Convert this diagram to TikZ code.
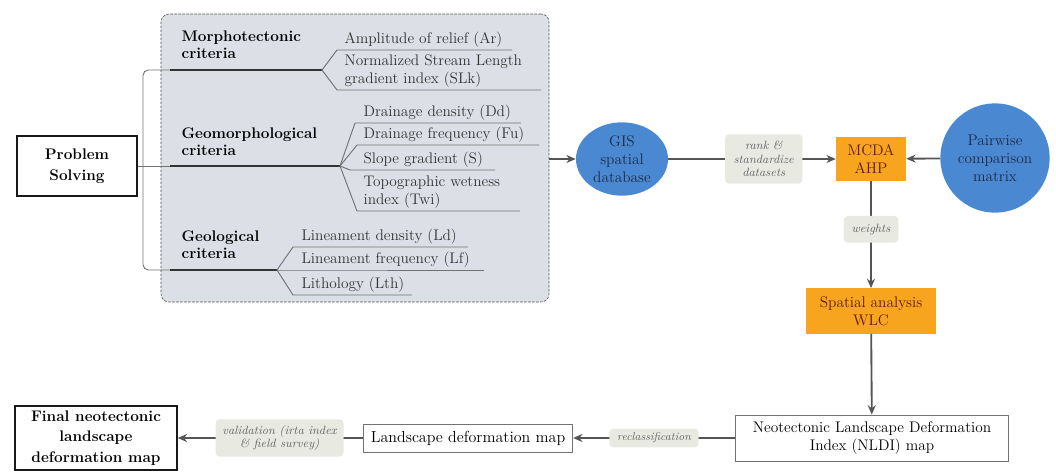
\documentclass[tikz,border=0pt]{standalone}
\usetikzlibrary{positioning,shapes.geometric,arrows.meta}

\definecolor{panelgray}{HTML}{DCDFE5}
\definecolor{gisblue}{HTML}{4A88D2}
\definecolor{ahporange}{HTML}{F7A41E}
\definecolor{tagfill}{HTML}{E8EAE2}
\definecolor{flowgray}{HTML}{555555}
\definecolor{ahptext}{HTML}{5E1B0C}
\definecolor{gistext}{HTML}{1C2B45}

\begin{document}
\begin{tikzpicture}[x=0.75pt,y=-0.75pt,
	every node/.style={font=\fontsize{11.5}{13.5}\selectfont},
	panel/.style={draw=black!70,dashed,dash pattern=on 2pt off 1pt,fill=panelgray,rounded corners=6pt,minimum width=291pt,minimum height=216pt},
	plain box/.style={draw=black!55,line width=0.7pt,fill=white,align=center,inner sep=2pt},
	bold box/.style={draw=black!90,line width=1.6pt,fill=white,align=center,inner sep=1pt,font=\fontsize{11.5}{15.5}\selectfont\bfseries},
	blue node/.style={fill=gisblue,text=gistext,align=center,inner sep=0pt},
	orange node/.style={fill=ahporange,text=ahptext,align=center,inner sep=1pt},
	tag/.style={fill=tagfill,rounded corners=3pt,text=black!60,align=center,inner sep=1pt,font=\fontsize{9}{10}\selectfont\itshape},
	crit title/.style={anchor=south west,align=left,inner sep=1pt,font=\fontsize{11.5}{12.8}\selectfont\bfseries},
	item/.style={anchor=south west,align=left,inner sep=1pt,text=black!80},
	stem/.style={draw=black!80,line width=1.8pt},
	twig/.style={draw=black!55,line width=0.7pt},
	brace/.style={draw=black!55,line width=0.7pt,rounded corners=4pt},
	flow/.style={draw=flowgray,line width=1.4pt,-{Stealth[length=7pt,width=6pt]}}]

\useasboundingbox (0,0) rectangle (1056,475);

% criteria panel
\node[panel] (crit) at (355,158) {};

\node[bold box,minimum width=90pt,minimum height=45pt] (ps) at (77,166) {Problem\\Solving};

% stems of the three groups
\coordinate (mtA) at (170,70);
\coordinate (mtB) at (322,70);
\coordinate (gmA) at (170,166);
\coordinate (gmB) at (340,166);
\coordinate (glA) at (170,270);
\coordinate (glB) at (277,270);

\node[crit title] (mt) at (180,60) {Morphotectonic\\criteria};
\node[crit title] (gm) at (180,157) {Geomorphological\\criteria};
\node[crit title] (gl) at (180,260) {Geological\\criteria};

\draw[stem] (mtA) -- (mtB);
\draw[stem] (gmA) -- (gmB);
\draw[stem] (glA) -- (glB);

\draw[brace] (mtA) -- (143,70) -- (143,270) -- (glA);
\draw[brace] (ps.east) -- (gmA);

% morphotectonic items
\node[item] (ar) at (343,49) {Amplitude of relief (Ar)};
\node[item] (slk) at (343,89) {Normalized Stream Length\\gradient index (SLk)};
\draw[twig] (mtB) -- (337,50) -- (512,50);
\draw[twig] (mtB) -- (337,90) -- (541,90);

% geomorphological items
\node[item] (dd) at (362,122) {Drainage density (Dd)};
\node[item] (fu) at (362,144) {Drainage frequency (Fu)};
\node[item] (sg) at (362,169) {Slope gradient (S)};
\node[item] (twi) at (362,210) {Topographic wetness\\index (Twi)};
\draw[twig] (gmB) -- (355,123) -- (521,123);
\draw[twig] (gmB) -- (357,145) -- (539,145);
\draw[twig] (gmB) -- (350,170) -- (495,170);
\draw[twig] (gmB) -- (357,211) -- (520,211);

% geological items
\node[item] (ld) at (300,246) {Lineament density (Ld)};
\node[item] (lf) at (300,269) {Lineament frequency (Lf)};
\node[item] (lth) at (300,294) {Lithology (Lth)};
\draw[twig] (glB) -- (293,247) -- (468,247);
\draw[twig] (glB) -- (293,270) -- (484,270);
\draw[twig] (glB) -- (293,295) -- (412,295);

% analysis
\node[blue node,ellipse,minimum width=69pt,minimum height=55pt] (gis) at (622,159) {GIS\\spatial\\database};
\node[orange node,minimum width=52.5pt,minimum height=33pt] (mcda) at (871,159) {MCDA\\AHP};
\node[blue node,circle,minimum size=82pt] (pair) at (995,158) {Pairwise\\comparison\\matrix};
\node[orange node,minimum width=97.5pt,minimum height=34pt] (wlc) at (871,311) {Spatial analysis\\WLC};

\draw[flow] (crit.east |- gis) -- (gis.west);
\draw[flow] (gis) -- node[tag,pos=0.57,minimum width=58pt,minimum height=37pt] (rank) {rank \&\\standardize\\datasets} (mcda);
\draw[flow] (pair) -- (mcda);
\draw[flow] (mcda) -- node[tag,pos=0.45,minimum width=41pt,minimum height=20pt] (wts) {weights} (wlc);

% maps
\node[plain box,minimum width=205pt,minimum height=34.5pt] (nldi) at (872,438) {Neotectonic Landscape Deformation\\Index (NLDI) map};
\node[plain box,minimum width=157pt,minimum height=21pt,font=\fontsize{12}{14}\selectfont] (land) at (468,438) {Landscape deformation map};
\node[bold box,minimum width=121pt,minimum height=48pt] (final) at (96,438) {Final neotectonic\\landscape\\deformation map};

\draw[flow] (wlc) -- (nldi);
\draw[flow] (nldi) -- node[tag,minimum width=67pt,minimum height=14pt,font=\fontsize{8.5}{10}\selectfont\itshape] (recl) {reclassification} (land);
\draw[flow] (land) -- node[tag,pos=0.45,minimum width=96pt,minimum height=28pt] (valid) {validation (irta index\\\& field survey)} (final);

\end{tikzpicture}
\end{document}
